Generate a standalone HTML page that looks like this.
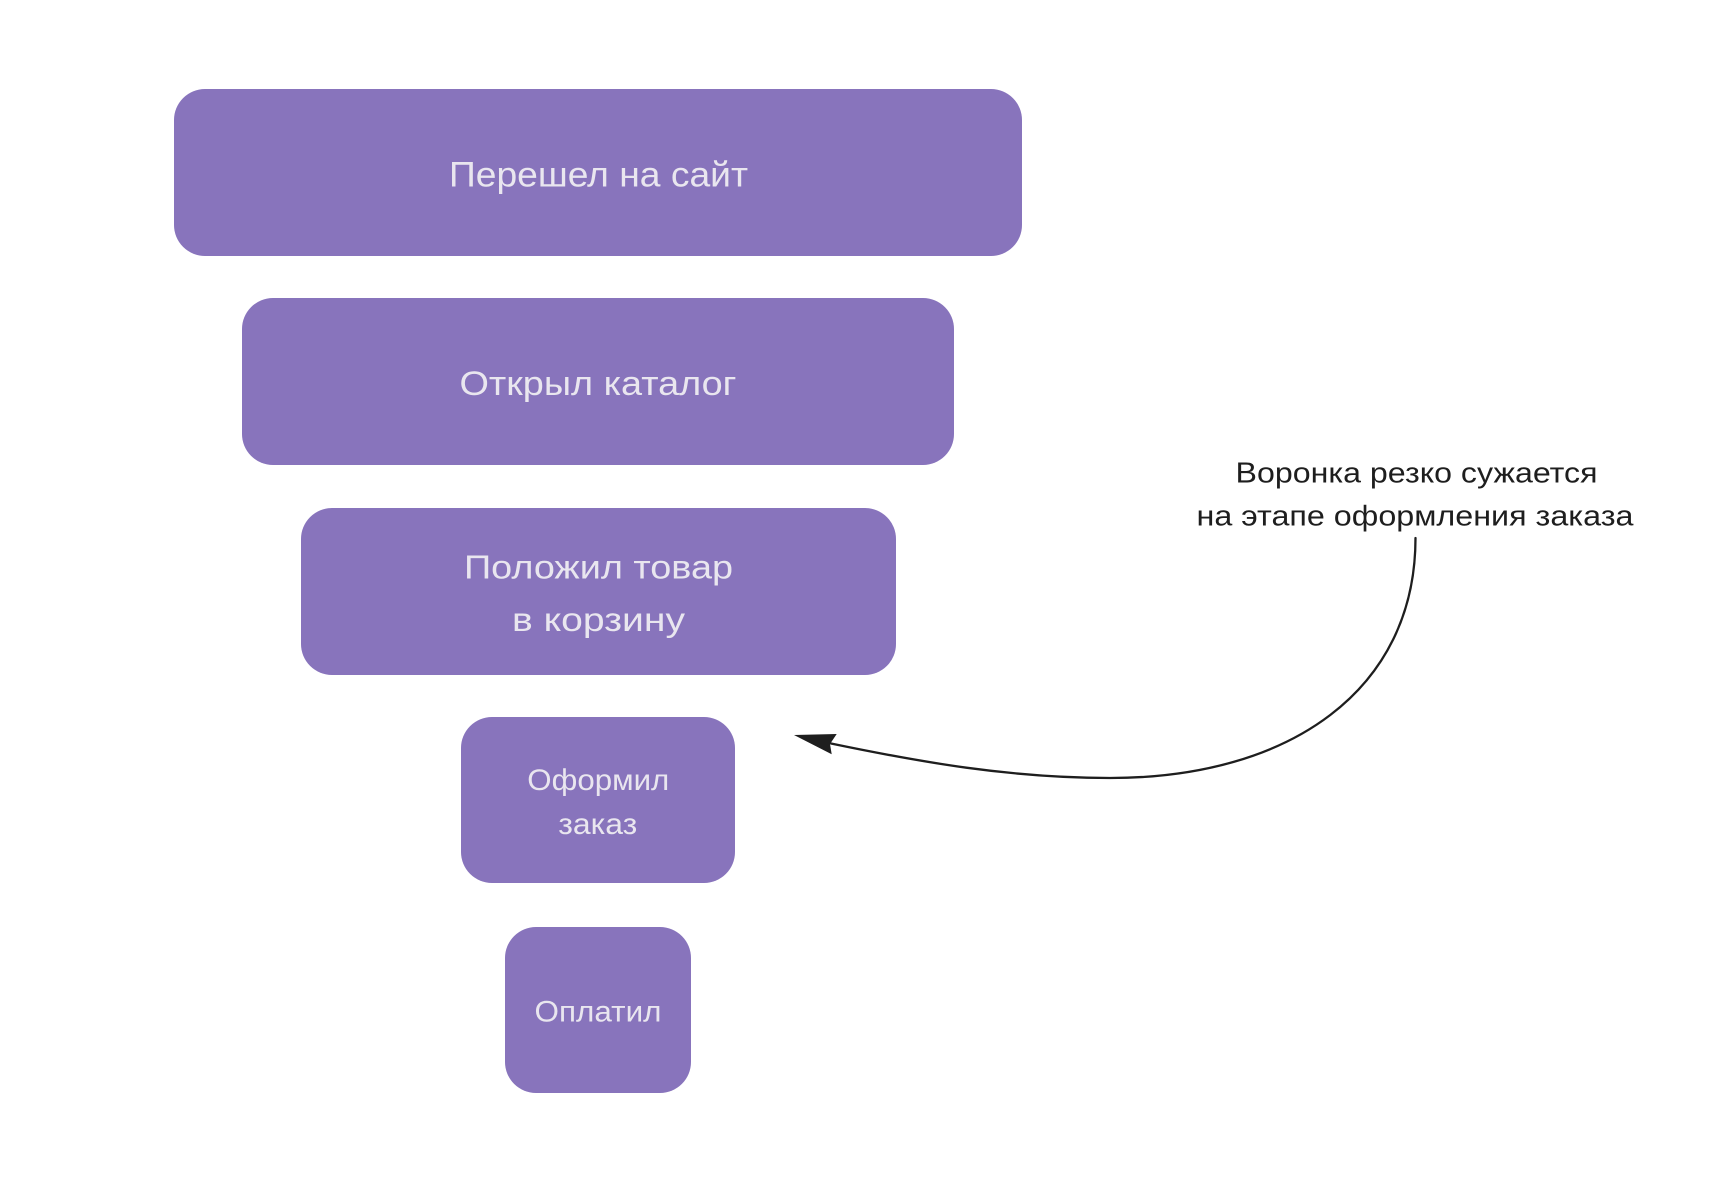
<!DOCTYPE html>
<html>
<head>
<meta charset="utf-8">
<style>
  html, body { margin: 0; padding: 0; background: #ffffff; }
  body { width: 1720px; height: 1182px; overflow: hidden; }
  svg { display: block; }
  .box { fill: #8874bc; }
  .bt { fill: #e9e6ef; font-family: "Liberation Sans", "DejaVu Sans", sans-serif; text-anchor: middle; }
  .at { fill: #1e1e1e; font-family: "Liberation Sans", "DejaVu Sans", sans-serif; text-anchor: middle; }
</style>
</head>
<body>
<svg width="1720" height="1182" viewBox="0 0 1720 1182" xmlns="http://www.w3.org/2000/svg">
  <rect x="0" y="0" width="1720" height="1182" fill="#ffffff"/>

  <!-- Funnel boxes -->
  <rect class="box" x="174" y="89" width="848" height="167" rx="31" ry="31"/>
  <rect class="box" x="242" y="298" width="712" height="167" rx="31" ry="31"/>
  <rect class="box" x="301" y="508" width="595" height="167" rx="31" ry="31"/>
  <rect class="box" x="461" y="717" width="274" height="166" rx="31" ry="31"/>
  <rect class="box" x="505" y="927" width="186" height="166" rx="31" ry="31"/>

  <!-- Box labels -->
  <text class="bt" x="598.5" y="186.7" font-size="35" textLength="299" lengthAdjust="spacingAndGlyphs">Перешел на сайт</text>
  <text class="bt" x="598" y="395" font-size="34" textLength="277" lengthAdjust="spacingAndGlyphs">Открыл каталог</text>
  <text class="bt" x="598.5" y="578.3" font-size="33" textLength="269" lengthAdjust="spacingAndGlyphs">Положил товар</text>
  <text class="bt" x="598.5" y="631" font-size="33" textLength="173" lengthAdjust="spacingAndGlyphs">в корзину</text>
  <text class="bt" x="598.3" y="790" font-size="30" textLength="142" lengthAdjust="spacingAndGlyphs">Оформил</text>
  <text class="bt" x="597.8" y="834" font-size="30" textLength="79" lengthAdjust="spacingAndGlyphs">заказ</text>
  <text class="bt" x="598" y="1021.7" font-size="30" textLength="127" lengthAdjust="spacingAndGlyphs">Оплатил</text>

  <!-- Annotation -->
  <text class="at" x="1416.5" y="482.7" font-size="29" textLength="362" lengthAdjust="spacingAndGlyphs">Воронка резко сужается</text>
  <text class="at" x="1415" y="525.3" font-size="29" textLength="437" lengthAdjust="spacingAndGlyphs">на этапе оформления заказа</text>

  <!-- Connector -->
  <path d="M1415.5,538 C1415.5,690 1290,778 1110,778 C1010,778 920,762 831,743.5"
        fill="none" stroke="#1e1e1e" stroke-width="2.3" stroke-linecap="round"/>
  <polygon points="794,735 836.7,734 830,744 831.7,754.3" fill="#1e1e1e"/>
</svg>
</body>
</html>
